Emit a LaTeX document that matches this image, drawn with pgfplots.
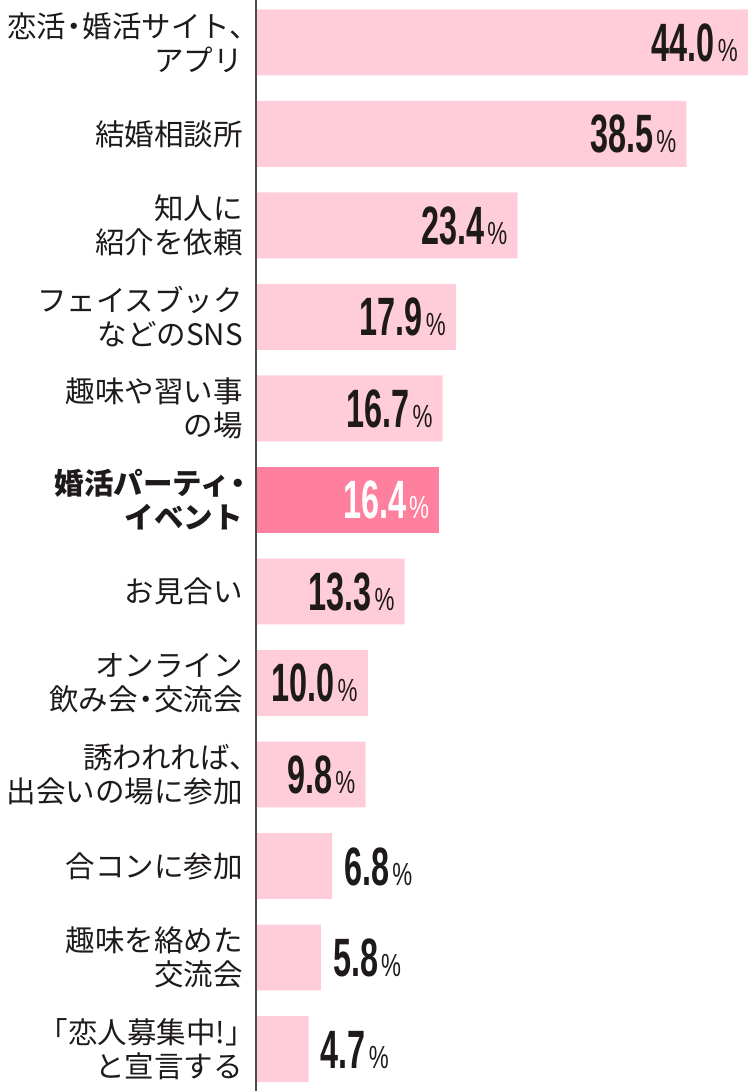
\documentclass[border=0pt]{standalone}
\usepackage{pgfplots}
\pgfplotsset{compat=1.18}
\usepackage{fontspec}
\setmainfont{Noto Sans CJK JP}
\newfontfamily\numfont[FakeStretch=0.6]{Liberation Sans}
\newfontfamily\pctfont[FakeStretch=0.7]{Liberation Sans}
\definecolor{barpink}{HTML}{FFCCD9}
\definecolor{hipink}{HTML}{FF7F9E}
\definecolor{txt}{HTML}{1E1A1A}
\newcommand\val[1]{{\fontsize{54}{54}\selectfont\numfont\bfseries #1}\kern3pt{\fontsize{32}{32}\selectfont\pctfont\%}}
\newcommand\nk{\kern-0.22em・\kern-0.22em}
\begin{document}
\begin{tikzpicture}
\begin{axis}[name=ax, scale only axis, width=494pt, height=1091pt,
  xmin=0, xmax=44.19, ymin=-0.464, ymax=11.459, y dir=reverse,
  axis x line=none, axis y line*=left, axis on top,
  axis line style={draw=black!70, line width=1.5pt},
  xtick=\empty, ytick={0,...,11}, major tick length=0pt,
  yticklabels={
    {恋活\nk 婚活サイト、\kern-0.55em\\アプリ},
    {結婚相談所},
    {知人に\\紹介を依頼},
    {フェイスブック\\などのSNS},
    {趣味や習い事\\の場},
    {{\bfseries 婚活パーティ\kern-0.22em・\kern-0.35em}\\{\bfseries イベント}},
    {お見合い},
    {オンライン\\飲み会\nk 交流会},
    {誘われれば、\kern-0.55em\\出会いの場に参加},
    {合コンに参加},
    {趣味を絡めた\\交流会},
    {「恋人募集中!」\kern-0.4em\\と宣言する}},
  yticklabel style={font=\fontsize{29.5}{34}\selectfont, align=right, inner sep=0pt, xshift=-13pt, text=txt},
  xbar, bar width=0.721, bar shift=0pt,
  point meta=explicit symbolic,
  nodes near coords={\val{\pgfplotspointmeta}},
]
\addplot[fill=barpink, draw=none, every node near coord/.append style={anchor=base east, inner sep=0pt, xshift=-10pt, yshift=-19pt, text=txt}]
  coordinates {(44.0,0)[44.0] (38.5,1)[38.5] (23.4,2)[23.4] (17.9,3)[17.9] (16.7,4)[16.7] (13.3,6)[13.3] (10.0,7)[10.0] (9.8,8)[9.8]};
\addplot[fill=hipink, draw=none, every node near coord/.append style={anchor=base east, inner sep=0pt, xshift=-10pt, yshift=-19pt, text=white}]
  coordinates {(16.4,5)[16.4]};
\addplot[fill=barpink, draw=none, every node near coord/.append style={anchor=base west, inner sep=0pt, xshift=12pt, yshift=-19pt, text=txt}]
  coordinates {(6.8,9)[6.8] (5.8,10)[5.8] (4.7,11)[4.7]};
\end{axis}
\pgfresetboundingbox
\path[use as bounding box] ([xshift=-256pt]ax.south west) rectangle (ax.north east);
\end{tikzpicture}
\end{document}
